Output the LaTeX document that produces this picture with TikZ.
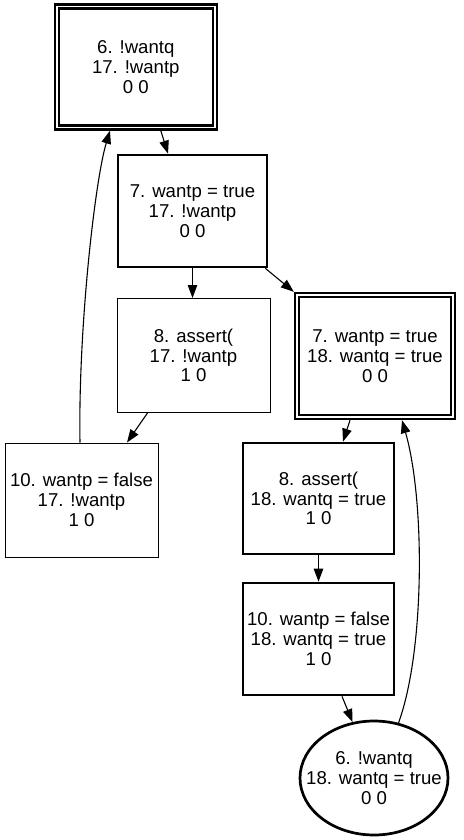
\documentclass[tikz,border=0pt]{standalone}
\usepackage{fontspec}
\setmainfont{Liberation Sans}
\usetikzlibrary{arrows.meta,shapes.geometric}
\begin{document}
\begin{tikzpicture}[x=1pt,y=-1pt,
 txt/.style={align=center,font=\fontsize{18.6}{19.8}\selectfont,inner sep=0pt},
 thinbox/.style={txt,draw,line width=1pt,rectangle},
 thickbox/.style={txt,draw,line width=2.7pt,rectangle},
 dblbox/.style={txt,draw,line width=2.4pt,double,double distance=1.6pt,rectangle,outer sep=3.2pt},
 ellbox/.style={draw,line width=2.7pt,ellipse,inner sep=0pt},
 arr/.style={-{Triangle[length=13pt,width=9.5pt]},line width=1.1pt}]
\useasboundingbox (0,0) rectangle (463,840);
\node[dblbox,minimum width=158pt,minimum height=121pt] (A) at (135.8,67) {6. !wantq\\17. !wantp\\0 0};
\node[thickbox,minimum width=149pt,minimum height=112pt] (B) at (192.5,211) {7. wantp = true\\17. !wantp\\0 0};
\node[thinbox,minimum width=153pt,minimum height=114pt] (C) at (193.5,355.5) {8. assert(\\17. !wantp\\1 0};
\node[dblbox,minimum width=156pt,minimum height=122pt] (D) at (375,356) {7. wantp = true\\18. wantq = true\\0 0};
\node[thinbox,minimum width=153pt,minimum height=114pt] (E) at (81.5,500) {10. wantp = false\\17. !wantp\\1 0};
\node[thickbox,minimum width=151pt,minimum height=111pt] (F) at (318.5,498.5) {8. assert(\\18. wantq = true\\1 0};
\node[thickbox,minimum width=151pt,minimum height=112pt] (G) at (318.5,639) {10. wantp = false\\18. wantq = true\\1 0};
\node[ellbox,minimum width=148pt,minimum height=114pt,label={[txt]center:6. !wantq\\18. wantq = true\\0 0}] (H) at (374,778) {};
\draw[arr] ([xshift=25pt]A.south) -- ([xshift=-24.5pt]B.north);
\draw[arr] (B.south) -- (B.south |- C.north);
\draw[arr] ([xshift=-3pt]B.south east) -- (D.north west);
\draw[arr] ([xshift=-46pt]C.south) -- ([xshift=45.5pt]E.north);
\draw[arr] ([xshift=-1.5pt]E.north) .. controls (78,330) and (95,180) .. ([xshift=-25.8pt]A.south);
\draw[arr] ([xshift=-25pt]D.south) -- ([xshift=24.5pt]F.north);
\draw[arr] (F.south) -- (G.north);
\draw[arr] ([xshift=23.5pt]G.south) -- (H.111);
\draw[arr] (H.66) .. controls (425,650) and (425,500) .. ([xshift=27pt]D.south);
\end{tikzpicture}
\end{document}
